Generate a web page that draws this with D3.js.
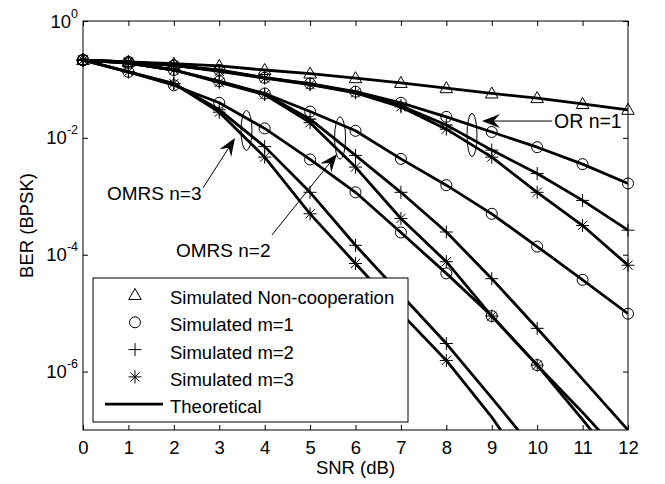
<!DOCTYPE html>
<html>
<head>
<meta charset="utf-8">
<script src="https://cdn.jsdelivr.net/npm/d3@7"></script>
<style>
  body { margin: 0; background: #fff; }
  text { font-family: Arial, "Liberation Sans", sans-serif; fill: #000; }
</style>
</head>
<body>
<div id="chart"></div>
<script>
// SNR axis (dB)
const snrDb = [0, 1, 2, 3, 4, 5, 6, 7, 8, 9, 10, 11, 12];

// BER (null = below the plot)
const berNonCoop = [0.214, 0.200, 0.186, 0.170, 0.145, 0.126, 0.105, 0.0871, 0.0708, 0.0575, 0.0479, 0.0380, 0.0302];

// OR n=1
const berOrM1 = [0.214, 0.200, 0.174, 0.145, 0.107, 0.0851, 0.0617, 0.0398, 0.0229, 0.0126, 0.00692, 0.00355, 0.00166];
const berOrM2 = [0.214, 0.200, 0.174, 0.141, 0.107, 0.0832, 0.0603, 0.0355, 0.0166, 0.00617, 0.00245, 8.51e-4, 2.63e-4];
const berOrM3 = [0.214, 0.200, 0.174, 0.138, 0.105, 0.0813, 0.0589, 0.0339, 0.0141, 0.00468, 0.00117, 3.16e-4, 6.61e-5];

// OMRS n=2
const berN2M1 = [0.214, 0.191, 0.145, 0.0933, 0.0575, 0.0282, 0.0132, 0.00437, 0.00155, 5.01e-4, 1.38e-4, 3.72e-5, 9.77e-6];
const berN2M2 = [0.214, 0.191, 0.145, 0.0912, 0.0562, 0.0209, 0.00501, 0.00117, 2.45e-4, 3.89e-5, 5.50e-6, 7.41e-7, 1.0e-7];
const berN2M3 = [0.214, 0.191, 0.145, 0.0891, 0.0550, 0.0182, 0.00316, 4.17e-4, 7.59e-5, 8.91e-6, 1.29e-6, 2.0e-7, 2.82e-8];

// OMRS n=3
const berN3M1 = [0.214, 0.135, 0.0794, 0.0398, 0.0145, 0.00427, 0.00117, 2.40e-4, 4.79e-5, 8.91e-6, 1.29e-6, 1.51e-7, 1.58e-8];
const berN3M2 = [0.214, 0.135, 0.0851, 0.0302, 0.00708, 0.00117, 1.45e-4, 2.09e-5, 3.02e-6, 3.55e-7, 3.98e-8, null, null];
const berN3M3 = [0.214, 0.135, 0.0851, 0.0275, 0.00468, 5.01e-4, 7.08e-5, 1.0e-5, 1.55e-6, 1.66e-7, 1.26e-8, null, null];

const yTickValues = [1, 1e-2, 1e-4, 1e-6];
const yTickExponents = ['0', '-2', '-4', '-6'];

const legendLabels = ['Simulated Non-cooperation', 'Simulated m=1', 'Simulated m=2', 'Simulated m=3', 'Theoretical'];
const legendMarkers = ['triangle', 'circle', 'plus', 'star', 'line'];

const curves = [
    { ber: berNonCoop, marker: 'triangle' },
    { ber: berOrM1, marker: 'circle' },
    { ber: berOrM2, marker: 'plus' },
    { ber: berOrM3, marker: 'star' },
    { ber: berN2M1, marker: 'circle' },
    { ber: berN2M2, marker: 'plus' },
    { ber: berN2M3, marker: 'star' },
    { ber: berN3M1, marker: 'circle' },
    { ber: berN3M2, marker: 'plus' },
    { ber: berN3M3, marker: 'star' }
];

// simulated points are only shown down to this BER
const markerFloor = 1e-6;

const width = 665, height = 484;
const plot = { left: 83, right: 628, top: 21, bottom: 430 };

const svg = d3.select('#chart').append('svg')
    .attr('width', width)
    .attr('height', height);

const x = d3.scaleLinear().domain([0, 12]).range([plot.left, plot.right]);
const y = d3.scaleLog().domain([1e-7, 1]).range([plot.bottom, plot.top]);

svg.append('clipPath').attr('id', 'clip')
    .append('rect')
    .attr('x', plot.left).attr('y', plot.top)
    .attr('width', plot.right - plot.left)
    .attr('height', plot.bottom - plot.top);

// axes with inward ticks on all four sides
const tickLen = 5;
const fontSize = 18.5;

const xAxis = svg.append('g')
    .attr('transform', `translate(0,${plot.bottom})`)
    .call(d3.axisBottom(x).tickValues(snrDb).tickFormat(d3.format('d'))
        .tickSizeInner(-tickLen).tickSizeOuter(0).tickPadding(11));
svg.append('g')
    .attr('transform', `translate(0,${plot.top})`)
    .call(d3.axisTop(x).tickValues(snrDb).tickFormat('')
        .tickSizeInner(-tickLen).tickSizeOuter(0));
svg.append('g')
    .attr('transform', `translate(${plot.left},0)`)
    .call(d3.axisLeft(y).tickValues(yTickValues).tickFormat('')
        .tickSizeInner(-tickLen).tickSizeOuter(0));
svg.append('g')
    .attr('transform', `translate(${plot.right},0)`)
    .call(d3.axisRight(y).tickValues(yTickValues).tickFormat('')
        .tickSizeInner(-tickLen).tickSizeOuter(0));

svg.selectAll('.domain').remove();
svg.selectAll('.tick line').attr('stroke', '#000');
xAxis.selectAll('text')
    .style('font-size', fontSize + 'px')
    .style('font-family', 'Arial, "Liberation Sans", sans-serif')
    .attr('fill', '#000');

svg.append('rect')
    .attr('x', plot.left).attr('y', plot.top)
    .attr('width', plot.right - plot.left)
    .attr('height', plot.bottom - plot.top)
    .attr('fill', 'none')
    .attr('stroke', '#000')
    .attr('stroke-width', 1);

// y tick labels as 10^n
yTickValues.forEach((v, i) => {
    const t = svg.append('text')
        .attr('x', plot.left - 5)
        .attr('y', y(v) + 6.5)
        .attr('text-anchor', 'end')
        .style('font-size', fontSize + 'px');
    t.append('tspan').text('10');
    t.append('tspan').attr('dy', -10).style('font-size', '12.5px').text(yTickExponents[i]);
});

svg.append('text')
    .attr('x', (plot.left + plot.right) / 2)
    .attr('y', 474)
    .attr('text-anchor', 'middle')
    .style('font-size', fontSize + 'px')
    .text('SNR (dB)');

svg.append('text')
    .attr('transform', `translate(33,${(plot.top + plot.bottom) / 2}) rotate(-90)`)
    .attr('text-anchor', 'middle')
    .style('font-size', fontSize + 'px')
    .text('BER (BPSK)');

// curves
const line = d3.line()
    .defined(d => d.ber !== null)
    .x(d => x(d.snr))
    .y(d => y(d.ber));

const lineGroup = svg.append('g').attr('clip-path', 'url(#clip)');
const markerGroup = svg.append('g');

function markerPath(type) {
    switch (type) {
        case 'triangle': return 'M0,-6.5L6.3,4.5L-6.3,4.5Z';
        case 'plus': return 'M-6.5,0H6.5M0,-6.5V6.5';
        case 'star': return 'M-6.5,0H6.5M0,-6.5V6.5M-4.6,-4.6L4.6,4.6M-4.6,4.6L4.6,-4.6';
        default: return null;
    }
}

function drawMarker(g, type, cx, cy) {
    if (type === 'circle') {
        g.append('circle')
            .attr('cx', cx).attr('cy', cy).attr('r', 5.5)
            .attr('fill', 'none').attr('stroke', '#000').attr('stroke-width', 1);
    } else {
        g.append('path')
            .attr('d', markerPath(type))
            .attr('transform', `translate(${cx},${cy})`)
            .attr('fill', 'none').attr('stroke', '#000').attr('stroke-width', 1);
    }
}

curves.forEach(c => {
    const pts = snrDb.map((s, i) => ({ snr: s, ber: c.ber[i] }));
    lineGroup.append('path')
        .datum(pts)
        .attr('d', line)
        .attr('fill', 'none')
        .attr('stroke', '#000')
        .attr('stroke-width', 2.8)
        .attr('stroke-linejoin', 'round');
    pts.filter(p => p.ber !== null && p.ber >= markerFloor)
        .forEach(p => drawMarker(markerGroup, c.marker, x(p.snr), y(p.ber)));
});

// legend
const legend = svg.append('g');
legend.append('rect')
    .attr('x', 93).attr('y', 278)
    .attr('width', 315).attr('height', 144)
    .attr('fill', '#fff').attr('stroke', '#000').attr('stroke-width', 1);

legendLabels.forEach((label, i) => {
    const ly = 295 + i * 27.3;
    if (legendMarkers[i] === 'line') {
        legend.append('line')
            .attr('x1', 105).attr('x2', 163)
            .attr('y1', ly).attr('y2', ly)
            .attr('stroke', '#000').attr('stroke-width', 2.8);
    } else {
        drawMarker(legend, legendMarkers[i], 135, ly);
    }
    legend.append('text')
        .attr('x', 170).attr('y', ly + 9)
        .style('font-size', fontSize + 'px')
        .text(label);
});

// annotations (positions in data units)
const ellipses = [
    { snr: 3.6, ber: 0.0134, rx: 5.5, ry: 20 },
    { snr: 5.66, ber: 0.00995, rx: 5.5, ry: 21 },
    { snr: 8.565, ber: 0.0112, rx: 5, ry: 21.5 }
];
ellipses.forEach(e => {
    svg.append('ellipse')
        .attr('cx', x(e.snr)).attr('cy', y(e.ber))
        .attr('rx', e.rx).attr('ry', e.ry)
        .attr('fill', 'none').attr('stroke', '#000').attr('stroke-width', 1);
});

const arrows = [
    { from: [10.33, 0.0194], to: [8.785, 0.0194] },
    { from: [2.642, 0.00139], to: [3.347, 0.00995] },
    { from: [4.161, 2.18e-4], to: [5.593, 0.0053] }
];
arrows.forEach(a => {
    const x1 = x(a.from[0]), y1 = y(a.from[1]);
    const x2 = x(a.to[0]), y2 = y(a.to[1]);
    const len = Math.hypot(x2 - x1, y2 - y1);
    const ux = (x2 - x1) / len, uy = (y2 - y1) / len;
    const nx = -uy, ny = ux;
    const L = 18, W = 7;
    svg.append('line')
        .attr('x1', x1).attr('y1', y1)
        .attr('x2', x2 - ux * 8).attr('y2', y2 - uy * 8)
        .attr('stroke', '#000').attr('stroke-width', 1);
    const head = [
        [x2, y2],
        [x2 - L * ux + W * nx, y2 - L * uy + W * ny],
        [x2 - 0.65 * L * ux, y2 - 0.65 * L * uy],
        [x2 - L * ux - W * nx, y2 - L * uy - W * ny]
    ];
    svg.append('path')
        .attr('d', 'M' + head.map(p => p.join(',')).join('L') + 'Z')
        .attr('fill', '#000');
});

const notes = [
    { text: 'OR n=1', snr: 10.37, ber: 0.0148, size: 19.5 },
    { text: 'OMRS n=3', snr: 0.528, ber: 8.65e-4, size: 19 },
    { text: 'OMRS n=2', snr: 2.048, ber: 9.25e-5, size: 19 }
];
notes.forEach(n => {
    svg.append('text')
        .attr('x', x(n.snr)).attr('y', y(n.ber))
        .style('font-size', n.size + 'px')
        .text(n.text);
});
</script>
</body>
</html>
